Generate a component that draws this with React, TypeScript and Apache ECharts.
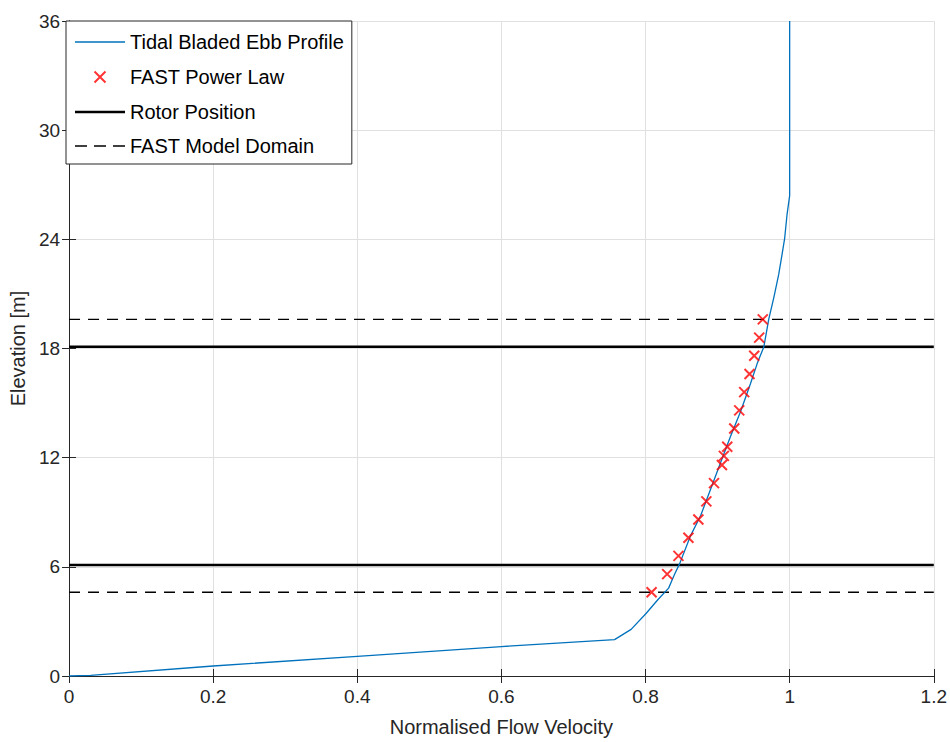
import React, { useEffect, useRef } from "react";
import * as echarts from "echarts";

// Tidal Bladed ebb profile (normalised velocity, elevation m)
const profileVelocity = [0.0, 0.03, 0.2, 0.4, 0.6, 0.757, 0.78, 0.801, 0.817, 0.832, 0.84, 0.8475, 0.8627, 0.8765, 0.8904, 0.9042, 0.918, 0.9319, 0.9457, 0.9549, 0.9641, 0.971, 0.978, 0.9848, 0.9894, 0.9931, 0.9963, 1.0, 1.0];
const profileElevation = [0.0, 0.03, 0.55, 1.08, 1.62, 2.0, 2.56, 3.45, 4.19, 4.83, 5.56, 6.19, 7.73, 8.82, 10.28, 11.73, 13.18, 14.54, 16.08, 17.17, 18.08, 19.62, 20.8, 22.07, 23.16, 24.07, 25.34, 26.4, 36.0];

// FAST power law points
const fastVelocity = [0.8084, 0.83, 0.8457, 0.8595, 0.8733, 0.8844, 0.895, 0.906, 0.9087, 0.9134, 0.9231, 0.93, 0.9369, 0.9443, 0.9508, 0.9577, 0.9627];
const fastElevation = [4.6, 5.6, 6.6, 7.6, 8.6, 9.6, 10.6, 11.6, 12.1, 12.6, 13.6, 14.6, 15.6, 16.6, 17.6, 18.6, 19.6];

const rotorElevations = [6.1, 18.1];
const domainElevations = [4.6, 19.6];
const xRange = [0, 1.2];

const xTicks = [0, 0.2, 0.4, 0.6, 0.8, 1, 1.2];
const yTicks = [0, 6, 12, 18, 24, 30, 36];

const FONT = "'Liberation Sans', Arial, Helvetica, sans-serif";
const AXIS_COLOR = "#262626";
const GRID_COLOR = "#e0e0e0";
const X_PATH = "path://M0,0L10,10M10,0L0,10";
const X_LEGEND = "path://M0,0M20,20M4.5,4.5L15.5,15.5M15.5,4.5L4.5,15.5";
const THIN_LINE_ICON = "path://M0,0L50,0L50,1.3L0,1.3Z";
const THICK_LINE_ICON = "path://M0,0L50,0L50,2.5L0,2.5Z";
const DASH_ICON = "path://M0,0L12,0L12,1.4L0,1.4ZM19,0L31,0L31,1.4L19,1.4ZM38,0L50,0L50,1.4L38,1.4Z";

export default function App() {
  const ref = useRef<HTMLDivElement>(null);

  useEffect(() => {
    if (!ref.current) return;
    const chart = echarts.init(ref.current, undefined, { renderer: "svg" });

    const profileData = profileVelocity.map((v, i) => [v, profileElevation[i]]);
    const fastData = fastVelocity.map((v, i) => [v, fastElevation[i]]);

    const hLine = (name: string, y: number, style: any) => ({
      name,
      type: "line",
      data: [[xRange[0], y], [xRange[1], y]],
      symbol: "none",
      lineStyle: style,
      itemStyle: { color: style.color },
      z: 3,
      silent: true,
    });

    const axisCommon = {
      min: 0,
      axisLine: { show: true, lineStyle: { color: AXIS_COLOR, width: 1 } },
      axisTick: { show: true, inside: true, length: 7, lineStyle: { color: AXIS_COLOR } },
    };

    const option: any = {
      animation: false,
      backgroundColor: "#ffffff",
      textStyle: { fontFamily: FONT },
      grid: { left: 66, right: 16, top: 21, bottom: 60, containLabel: false },
      legend: {
        orient: "vertical",
        left: 66,
        top: 21,
        itemWidth: 50,
        itemHeight: 20,
        itemGap: 14,
        padding: [11, 8, 8, 9],
        borderColor: AXIS_COLOR,
        borderWidth: 1,
        backgroundColor: "#ffffff",
        selectedMode: false,
        textStyle: { fontSize: 20, color: "#000000", fontFamily: FONT },
        data: [
          { name: "Tidal Bladed Ebb Profile", icon: THIN_LINE_ICON },
          { name: "FAST Power Law", icon: X_LEGEND },
          { name: "Rotor Position", icon: THICK_LINE_ICON },
          { name: "FAST Model Domain", icon: DASH_ICON },
        ],
        z: 10,
      },
      xAxis: [
        {
          ...axisCommon,
          type: "value",
          position: "bottom",
          max: xTicks[xTicks.length - 1],
          interval: 0.2,
          name: "Normalised Flow Velocity",
          nameLocation: "middle",
          nameGap: 41,
          nameTextStyle: { fontSize: 20, color: AXIS_COLOR, fontFamily: FONT },
          axisLabel: { fontSize: 19, color: AXIS_COLOR, margin: 11, fontFamily: FONT },
          splitLine: { show: true, lineStyle: { color: GRID_COLOR, width: 1 } },
        },
        {
          ...axisCommon,
          type: "value",
          position: "top",
          max: xTicks[xTicks.length - 1],
          interval: 0.2,
          axisLabel: { show: false },
          splitLine: { show: false },
        },
      ],
      yAxis: [
        {
          ...axisCommon,
          type: "value",
          position: "left",
          max: yTicks[yTicks.length - 1],
          interval: 6,
          name: "Elevation [m]",
          nameLocation: "middle",
          nameGap: 37,
          nameTextStyle: { fontSize: 20, color: AXIS_COLOR, fontFamily: FONT },
          axisLabel: { fontSize: 19, color: AXIS_COLOR, margin: 9, fontFamily: FONT },
          splitLine: { show: true, lineStyle: { color: GRID_COLOR, width: 1 } },
        },
        {
          ...axisCommon,
          type: "value",
          position: "right",
          max: yTicks[yTicks.length - 1],
          interval: 6,
          axisLabel: { show: false },
          splitLine: { show: false },
        },
      ],
      series: [
        {
          name: "Tidal Bladed Ebb Profile",
          type: "line",
          data: profileData,
          symbol: "none",
          lineStyle: { color: "#0072BD", width: 1.3 },
          itemStyle: { color: "#0072BD" },
          z: 4,
        },
        {
          name: "FAST Power Law",
          type: "scatter",
          data: fastData,
          symbol: X_PATH,
          symbolSize: 10,
          itemStyle: { color: "#ff0000", borderColor: "#ff0000", borderWidth: 2 },
          z: 5,
        },
        ...rotorElevations.map((y) => hLine("Rotor Position", y, { color: "#000000", width: 2.5 })),
        ...domainElevations.map((y) => hLine("FAST Model Domain", y, { color: "#000000", width: 1.4, type: [11, 8] })),
      ],
    };

    chart.setOption(option);
    return () => chart.dispose();
  }, []);

  return (
    <div
      ref={ref}
      style={{ position: "fixed", left: 0, top: 0, width: 950, height: 742 }}
    />
  );
}
